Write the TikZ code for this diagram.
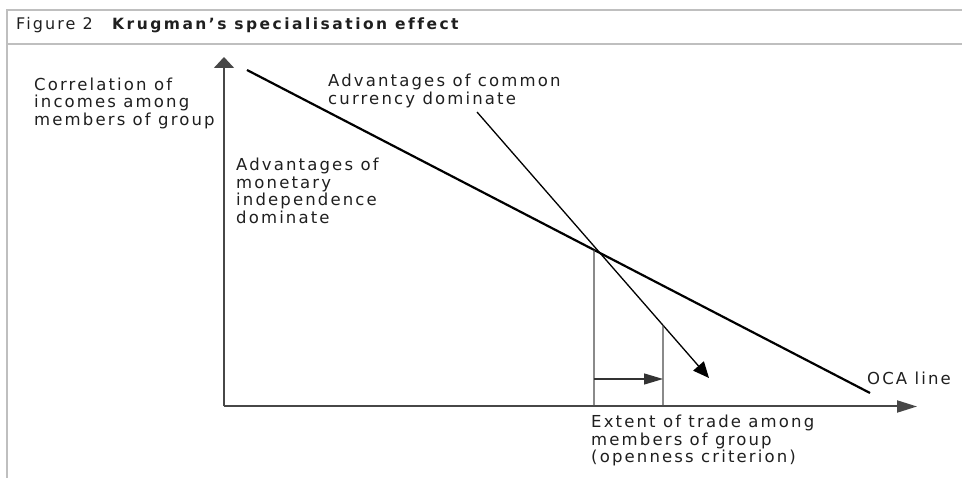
\documentclass[tikz,border=0pt]{standalone}
\usepackage{fontspec}
\setmainfont{DejaVu Sans}
\newfontfamily\lblfont[LetterSpace=13,Ligatures=NoCommon]{DejaVu Sans}
\newfontfamily\ttlfont[LetterSpace=16,Ligatures=NoCommon]{DejaVu Sans}
\usetikzlibrary{arrows.meta,calc}
\begin{document}
\begin{tikzpicture}[x=1pt,y=-1pt,
  lbl/.style={anchor=north west, inner sep=0pt, align=left, text=black!88,
    font=\lblfont\fontsize{16.5}{17.5}\selectfont},
  frameline/.style={draw=black!25, line width=1.3pt},
  axisline/.style={draw=black!72, line width=1.6pt},
  guide/.style={draw=black!70, line width=1.3pt},
  ocaline/.style={draw=black, line width=2.2pt},
  shiftline/.style={draw=black, line width=1.3pt}
]
\useasboundingbox (0,0) rectangle (962,478);
% frame
\coordinate (f1) at (7,478);
\coordinate (f2) at (7,10);
\coordinate (f3) at (962,10);
\coordinate (f4) at (7,44);
\coordinate (f5) at (962,44);
\draw[frameline] (f1) -- (f2) -- (f3);
\draw[frameline, line width=1.8pt] (f4) -- (f5);
\node[lbl, anchor=base west, font=\lblfont\fontsize{16}{17.5}\selectfont] (title) at (16,30) {Figure 2};
\node[lbl, anchor=base west, font=\ttlfont\fontsize{15.5}{17.5}\selectfont\bfseries] (title2) at (112,30) {Krugman’s specialisation effect};
% axes
\coordinate (O) at (224,406.5);
\coordinate (Ytip) at (224,57);
\coordinate (Xtip) at (917,406.5);
\draw[axisline, -{Triangle[length=11pt,width=20pt]}] (O) -- (Ytip);
\draw[axisline, line width=2pt, -{Triangle[length=20pt,width=12pt]}] (O) -- (Xtip);
% OCA line
\coordinate (A) at (247,70);
\coordinate (B) at (870,393);
\draw[ocaline] (A) -- (B);
% shifting line
\coordinate (C) at (477,112);
\coordinate (D) at (709,378);
\draw[shiftline, -{Triangle[length=16pt,width=14pt]}] (C) -- (D);
% verticals
\coordinate (P1) at ($(A)!{(594-247)/623}!(B)$);
\coordinate (Q1) at (594,406.5);
\coordinate (P2) at ($(C)!{(663-477)/232}!(D)$);
\coordinate (Q2) at (663,406.5);
\draw[guide] (P1) -- (Q1);
\draw[guide] (P2) -- (Q2);
\coordinate (H1) at (594,379);
\coordinate (H2) at (663,379);
\draw[guide, draw=black!80, -{Triangle[length=19pt,width=11pt]}] (H1) -- (H2);
% labels
\node[lbl] (ylab) at (34,77.5) {Correlation of\\incomes among\\members of group};
\node[lbl] (common) at (328,74.2) {Advantages of common\\currency dominate};
\node[lbl] (indep) at (236,158.2) {Advantages of\\monetary\\independence\\dominate};
\node[lbl] (oca) at (867,371.5) {OCA line};
\node[lbl] (xlab) at (591,414.8) {Extent of trade among\\members of group\\(openness criterion)};
\end{tikzpicture}
\end{document}
